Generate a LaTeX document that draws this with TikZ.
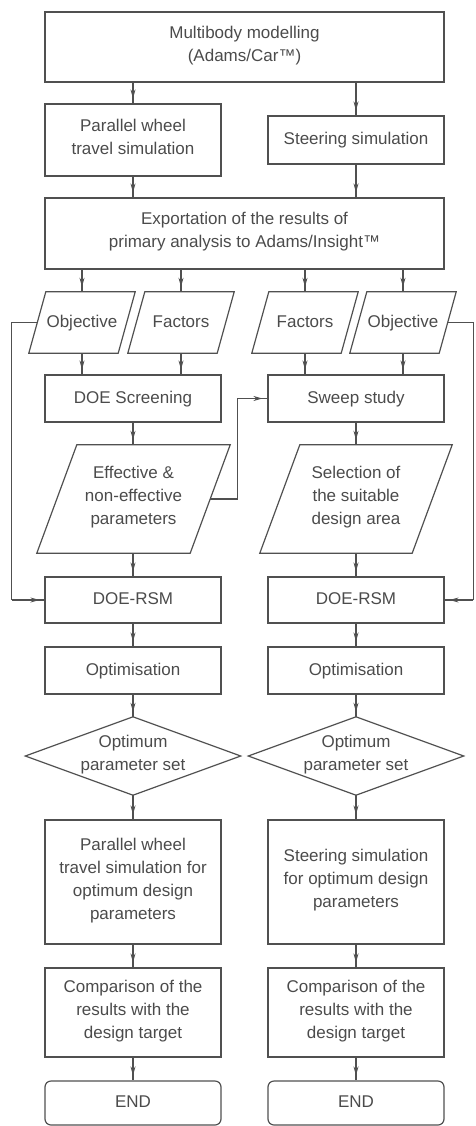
\documentclass[tikz,border=0pt]{standalone}
\usepackage{fontspec}
\setmainfont{Liberation Sans}
\usetikzlibrary{shapes.geometric,decorations.markings,arrows.meta,calc}
\definecolor{linec}{RGB}{80,80,80}
\definecolor{textc}{RGB}{75,75,75}
\newcommand\paraout[2]{\draw[outl] ($(#1.north west)+(#2/2,0)$) -- ($(#1.north east)+(#2/2,0)$) -- ($(#1.south east)-(#2/2,0)$) -- ($(#1.south west)-(#2/2,0)$) -- cycle;}
\newcommand\diaout[1]{\draw[outl] (#1.north) -- (#1.east) -- (#1.south) -- (#1.west) -- cycle;}
\begin{document}
\begin{tikzpicture}[x=1pt,y=-1pt,
  txt/.style={text=textc, align=center, inner sep=0pt, font=\fontsize{17}{23}\selectfont,
    execute at begin node=\strut, execute at end node=\strut},
  box/.style={txt, draw=linec, line width=1.2pt},
  pbox/.style={txt, draw=none},
  outl/.style={draw=linec, line width=1.2pt, line join=miter},
  wline/.style={draw=linec, line width=1.2pt},
  arr/.style={draw=linec, line width=1.2pt, postaction={decorate},
    decoration={markings, mark=at position -5pt with {\arrow{Stealth[length=9pt,width=5pt]}}}}
]
\useasboundingbox (0,0) rectangle (475,1126);

% top part
\node[box, minimum width=399pt, minimum height=70pt] (top) at (244.5,47) {Multibody modelling\\(Adams/Car™)};
\node[box, minimum width=176pt, minimum height=72pt] (pw) at (133,140) {Parallel wheel\\travel simulation};
\node[box, minimum width=176pt, minimum height=48pt] (st) at (356,140) {Steering simulation};
\node[box, minimum width=399pt, minimum height=71pt] (ex) at (244.5,233.5) {Exportation of the results of\\primary analysis to Adams/Insight™};

% parallelograms
\node[pbox, minimum width=89pt, minimum height=61pt] (objL) at (82,322.5) {Objective};
\node[pbox, minimum width=89pt, minimum height=61pt] (facL) at (181,322.5) {Factors};
\node[pbox, minimum width=89pt, minimum height=61pt] (facR) at (305,322.5) {Factors};
\node[pbox, minimum width=89pt, minimum height=61pt] (objR) at (403,322.5) {Objective};
\paraout{objL}{17}
\paraout{facL}{17}
\paraout{facR}{17}
\paraout{objR}{17}

\node[box, minimum width=176pt, minimum height=47pt] (dsL) at (133,398.5) {DOE Screening};
\node[box, minimum width=176pt, minimum height=47pt] (sw) at (356,398.5) {Sweep study};

\node[pbox, minimum width=153pt, minimum height=108pt] (eff) at (133.5,499) {Effective \&\\non-effective\\parameters};
\node[pbox, minimum width=152pt, minimum height=108pt] (sel) at (356,499) {Selection of\\the suitable\\design area};
\paraout{eff}{40}
\paraout{sel}{40}

\node[box, minimum width=176pt, minimum height=46pt] (rsmL) at (133,600) {DOE-RSM};
\node[box, minimum width=176pt, minimum height=46pt] (rsmR) at (356,600) {DOE-RSM};
\node[box, minimum width=176pt, minimum height=47pt] (optL) at (133,670.5) {Optimisation};
\node[box, minimum width=176pt, minimum height=47pt] (optR) at (356,670.5) {Optimisation};

\node[pbox, minimum width=215pt, minimum height=78pt] (diaL) at (133,756) {Optimum\\parameter set};
\node[pbox, minimum width=215pt, minimum height=78pt] (diaR) at (356,756) {Optimum\\parameter set};
\diaout{diaL}
\diaout{diaR}

\node[box, minimum width=176pt, minimum height=124pt] (finL) at (133,882) {Parallel wheel\\travel simulation for\\optimum design\\parameters};
\node[box, minimum width=176pt, minimum height=124pt] (finR) at (356,882) {Steering simulation\\for optimum design\\parameters};
\node[box, minimum width=176pt, minimum height=89pt] (cmpL) at (133,1012.5) {Comparison of the\\results with the\\design target};
\node[box, minimum width=176pt, minimum height=89pt] (cmpR) at (356,1012.5) {Comparison of the\\results with the\\design target};
\node[box, rounded corners=6pt, minimum width=176pt, minimum height=44pt] (endL) at (133,1103) {END};
\node[box, rounded corners=6pt, minimum width=176pt, minimum height=44pt] (endR) at (356,1103) {END};

% connectors
\draw[arr] (top.south -| pw.north) -- (pw.north);
\draw[arr] (top.south -| st.north) -- (st.north);
\draw[arr] (pw.south) -- (pw.south |- ex.north);
\draw[arr] (st.south) -- (st.south |- ex.north);
\draw[arr] (ex.south -| objL.north) -- (objL.north);
\draw[arr] (ex.south -| facL.north) -- (facL.north);
\draw[arr] (ex.south -| facR.north) -- (facR.north);
\draw[arr] (ex.south -| objR.north) -- (objR.north);
\draw[arr] (objL.south) -- (objL.south |- dsL.north);
\draw[arr] (facL.south) -- (facL.south |- dsL.north);
\draw[arr] (facR.south) -- (facR.south |- sw.north);
\draw[arr] (objR.south) -- (objR.south |- sw.north);
\draw[arr] (dsL.south) -- (dsL.south |- eff.north);
\draw[arr] (sw.south) -- (sel.north);
\draw[arr] (eff.south -| rsmL.north) -- (rsmL.north);
\draw[arr] (sel.south) -- (rsmR.north);
\draw[arr] (rsmL) -- (optL);
\draw[arr] (rsmR) -- (optR);
\draw[arr] (optL) -- (diaL.north);
\draw[arr] (optR) -- (diaR.north);
\draw[arr] (diaL.south) -- (finL);
\draw[arr] (diaR.south) -- (finR);
\draw[arr] (finL) -- (cmpL);
\draw[arr] (finR) -- (cmpR);
\draw[arr] (cmpL) -- (endL);
\draw[arr] (cmpR) -- (endR);

% elbow connectors
\draw[wline] (eff.east) -- ++(27,0) coordinate (j1) -- (j1 |- sw.west);
\draw[arr] (j1 |- sw.west) -- (sw.west);
\draw[wline] (objL.west) -- ++(-25.5,0) coordinate (j2) -- (j2 |- rsmL.west);
\draw[arr] (j2 |- rsmL.west) -- (rsmL.west);
\draw[wline] (objR.east) -- ++(25.5,0) coordinate (j3) -- (j3 |- rsmR.east);
\draw[arr] (j3 |- rsmR.east) -- (rsmR.east);
\end{tikzpicture}
\end{document}
